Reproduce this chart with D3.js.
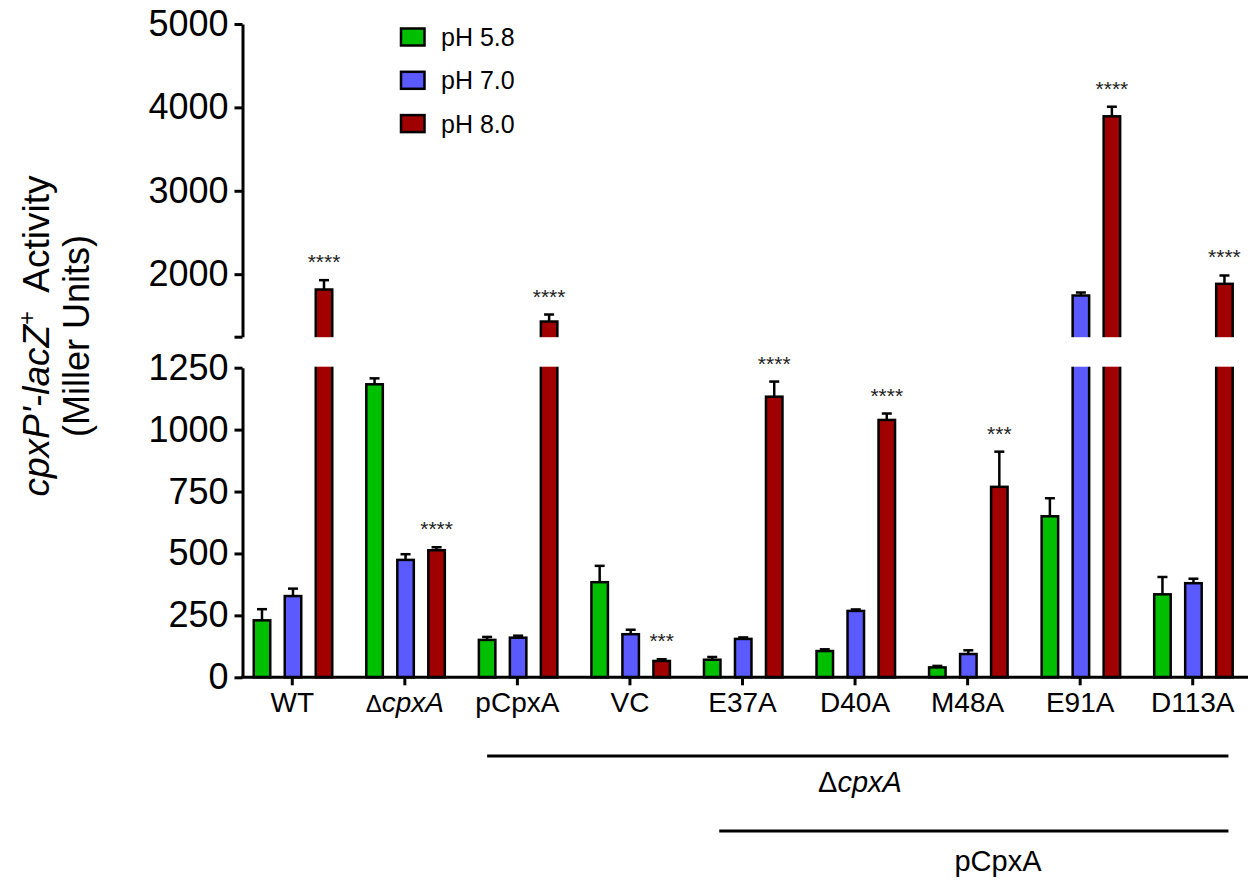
<!DOCTYPE html>
<html>
<head>
<meta charset="utf-8">
<script src="https://cdn.jsdelivr.net/npm/d3@7"></script>
<style>
  html, body { margin: 0; padding: 0; background: #fff; }
  svg { display: block; font-family: Arial, "Liberation Sans", sans-serif; }
</style>
</head>
<body>
<svg id="chart" width="1253" height="882"></svg>
<script>
// ---- data ----
const categories = ["WT", "ΔcpxA", "pCpxA", "VC", "E37A", "D40A", "M48A", "E91A", "D113A"];
const seriesNames = ["pH 5.8", "pH 7.0", "pH 8.0"];
const seriesColors = ["#00bf00", "#5a5aff", "#a00000"];
const pH58 = [230, 1183, 151, 384, 71, 106, 40, 650, 335];
const pH58err = [45, 24, 12, 66, 11, 7, 6, 73, 70];
const pH70 = [328, 474, 160, 174, 155, 268, 94, 1744, 380];
const pH70err = [30, 23, 8, 18, 6, 6, 15, 36, 18];
const pH80 = [1816, 513, 1432, 66, 1133, 1039, 769, 3893, 1884];
const pH80err = [112, 12, 84, 7, 61, 26, 142, 115, 100];
const stars = ["****", "****", "****", "***", "****", "****", "***", "****", "****"];
const lowTicks = [0, 250, 500, 750, 1000, 1250];
const highTicks = [1250, 2000, 3000, 4000, 5000];
const breakValue = 1250;

const values = [pH58, pH70, pH80];
const errors = [pH58err, pH70err, pH80err];

const svg = d3.select("#chart");

// ---- scales ----
const axisX = 242.5;
const yLow = d3.scaleLinear().domain([0, breakValue]).range([677.3, 367.7]);
const yHigh = d3.scaleLinear().domain([breakValue, 5000]).range([336.7, 24]);
const y = v => v <= breakValue ? yLow(v) : yHigh(v);

const x0 = d3.scaleBand().domain(categories).range([236, 1249]).padding(0);
const x1 = d3.scalePoint().domain(seriesNames).range([26, 88]);
const barW = 16.5;

// ---- build records ----
const records = [];
categories.forEach((c, i) => {
  seriesNames.forEach((s, j) => {
    records.push({ cat: c, series: s, color: seriesColors[j], v: values[j][i], e: errors[j][i] });
  });
});

// ---- bars ----
const gBars = svg.append("g");
gBars.selectAll("rect.bar").data(records).join("rect")
  .attr("class", "bar")
  .attr("x", d => x0(d.cat) + x1(d.series) - barW / 2)
  .attr("width", barW)
  .attr("y", d => y(d.v))
  .attr("height", d => yLow(0) - y(d.v))
  .attr("fill", d => d.color)
  .attr("stroke", "#000")
  .attr("stroke-width", 2.5);

// break gap (white band across bars)
svg.append("rect")
  .attr("x", axisX + 3)
  .attr("y", yHigh(breakValue) + 0.5)
  .attr("width", 1253 - axisX)
  .attr("height", yLow(breakValue) - yHigh(breakValue) - 1.5)
  .attr("fill", "#fff");

// ---- error bars ----
const gErr = svg.append("g").attr("stroke", "#000").attr("stroke-width", 2.5);
gErr.selectAll("line.ev").data(records).join("line")
  .attr("x1", d => x0(d.cat) + x1(d.series))
  .attr("x2", d => x0(d.cat) + x1(d.series))
  .attr("y1", d => y(d.v))
  .attr("y2", d => y(d.v + d.e));
gErr.selectAll("line.ec").data(records).join("line")
  .attr("x1", d => x0(d.cat) + x1(d.series) - 5)
  .attr("x2", d => x0(d.cat) + x1(d.series) + 5)
  .attr("y1", d => y(d.v + d.e))
  .attr("y2", d => y(d.v + d.e));

// ---- significance stars ----
svg.append("g").selectAll("text").data(categories).join("text")
  .attr("x", (c) => x0(c) + x1("pH 8.0"))
  .attr("y", (c, i) => y(pH80[i] + pH80err[i]) - 11)
  .attr("text-anchor", "middle")
  .attr("font-size", 21)
  .attr("fill", "#222")
  .text((c, i) => stars[i]);

// ---- y axes ----
function styleAxis(g) {
  g.select(".domain").attr("stroke", "#000").attr("stroke-width", 3);
  g.selectAll(".tick line").attr("stroke", "#000").attr("stroke-width", 3);
  g.selectAll(".tick text").attr("font-size", 36).attr("fill", "#000")
    .attr("font-family", "Arial, 'Liberation Sans', sans-serif");
}
const gLow = svg.append("g").attr("transform", `translate(${axisX},0)`)
  .call(d3.axisLeft(yLow).tickValues(lowTicks).tickSize(8).tickSizeOuter(0).tickPadding(6).tickFormat(d3.format("d")));
styleAxis(gLow);
const gHigh = svg.append("g").attr("transform", `translate(${axisX},0)`)
  .call(d3.axisLeft(yHigh).tickValues(highTicks).tickSize(8).tickSizeOuter(0).tickPadding(6)
    .tickFormat(d => d === breakValue ? "" : d3.format("d")(d)));
styleAxis(gHigh);

// ---- x axis ----
const baseY = yLow(0);
svg.append("line").attr("x1", axisX - 1.5).attr("x2", 1248).attr("y1", baseY).attr("y2", baseY)
  .attr("stroke", "#000").attr("stroke-width", 3);
const gx = svg.append("g");
gx.selectAll("line").data(categories).join("line")
  .attr("x1", c => x0(c) + x0.bandwidth() / 2)
  .attr("x2", c => x0(c) + x0.bandwidth() / 2)
  .attr("y1", baseY)
  .attr("y2", baseY + 8)
  .attr("stroke", "#000").attr("stroke-width", 3);
const xl = gx.selectAll("text").data(categories).join("text")
  .attr("x", c => x0(c) + x0.bandwidth() / 2)
  .attr("y", baseY + 35)
  .attr("text-anchor", "middle")
  .attr("font-size", 28)
  .attr("fill", "#000");
xl.each(function (c) {
  const t = d3.select(this);
  if (c.startsWith("Δ")) {
    t.append("tspan").attr("font-size", 24).text("Δ");
    t.append("tspan").attr("font-style", "italic").text(c.slice(1));
  } else {
    t.text(c);
  }
});

// ---- y title ----
const yt = svg.append("g").attr("transform", "translate(49,336) rotate(-90)");
const t1 = yt.append("text").attr("text-anchor", "middle").attr("font-size", 37).attr("fill", "#000");
t1.append("tspan").attr("font-style", "italic").text("cpxP'-lacZ");
t1.append("tspan").attr("font-size", 24).attr("dy", -14).text("+");
t1.append("tspan").attr("dy", 14).attr("dx", 10).text(" Activity");
yt.append("text").attr("x", 0).attr("y", 40).attr("text-anchor", "middle").attr("font-size", 36)
  .attr("fill", "#000").text("(Miller Units)");

// ---- legend ----
const lg = svg.append("g");
seriesNames.forEach((s, j) => {
  const cy = 37 + j * 43.3;
  lg.append("rect").attr("x", 401).attr("y", cy - 8.5).attr("width", 23.5).attr("height", 17)
    .attr("fill", seriesColors[j]).attr("stroke", "#000").attr("stroke-width", 2.5);
  lg.append("text").attr("x", 441).attr("y", cy + 9).attr("font-size", 25).attr("fill", "#000").text(s);
});

// ---- bottom group brackets ----
const ann = svg.append("g");
ann.append("line").attr("x1", x0("pCpxA") + 26).attr("x2", x0("D113A") + 92)
  .attr("y1", 756).attr("y2", 756).attr("stroke", "#000").attr("stroke-width", 3);
const a1 = ann.append("text").attr("x", 860).attr("y", 792).attr("text-anchor", "middle")
  .attr("font-size", 29).attr("fill", "#000");
a1.append("tspan").text("Δ");
a1.append("tspan").attr("font-style", "italic").text("cpxA");
ann.append("line").attr("x1", x0("E37A") + 33).attr("x2", x0("D113A") + 92)
  .attr("y1", 831).attr("y2", 831).attr("stroke", "#000").attr("stroke-width", 3);
ann.append("text").attr("x", 998).attr("y", 871).attr("text-anchor", "middle")
  .attr("font-size", 29).attr("fill", "#000").text("pCpxA");
</script>
</body>
</html>
